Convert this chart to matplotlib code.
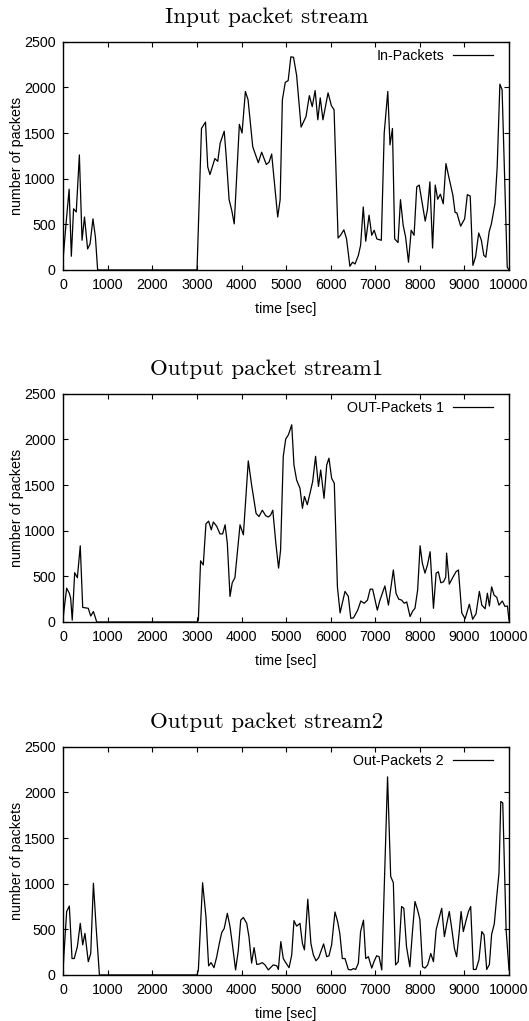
import matplotlib
matplotlib.use("Agg")
import matplotlib.pyplot as plt

# ---- data ----
in_t = [0, 60, 130, 180, 230, 290, 360, 420, 475, 545, 600, 665, 720, 770, 3000,
        3100, 3190, 3240, 3290, 3400, 3465, 3520, 3610, 3655, 3720, 3780, 3835, 3950, 4010,
        4085, 4145, 4250, 4375, 4450, 4555, 4615, 4675, 4810, 4865, 4915, 4980, 5045, 5105,
        5165, 5235, 5335, 5445, 5520, 5585, 5650, 5710, 5765, 5825, 5940, 6015, 6075, 6165,
        6220, 6295, 6355, 6430, 6490, 6545, 6620, 6670, 6730, 6785, 6860, 6920, 6975, 7035,
        7135, 7200, 7280, 7330, 7385, 7435, 7510, 7565, 7625, 7680, 7745, 7805, 7870, 7930,
        7985, 8120, 8170, 8225, 8285, 8345, 8400, 8460, 8525, 8585, 8660, 8740, 8790, 8830,
        8915, 9005, 9065, 9130, 9190, 9250, 9320, 9380, 9435, 9480, 9555, 9605, 9685, 9735,
        9795, 9845, 9960, 10000]
in_v = [150, 500, 885, 150, 670, 635, 1260, 325, 580, 230, 285, 560, 360, 0, 0,
        1550, 1620, 1130, 1045, 1220, 1190, 1390, 1520, 1240, 770, 650, 505, 1595, 1500,
        1955, 1865, 1350, 1175, 1290, 1155, 1180, 1270, 580, 770, 1865, 2055, 2075, 2335,
        2330, 2130, 1565, 1680, 1910, 1790, 1965, 1645, 1885, 1645, 1940, 1800, 1755, 350,
        380, 440, 340, 40, 85, 65, 160, 270, 690, 315, 600, 380, 435, 340,
        325, 1500, 1955, 1370, 1550, 340, 300, 770, 490, 360, 85, 435, 380, 910,
        930, 535, 660, 965, 240, 930, 775, 830, 725, 1165, 995, 820, 630, 625,
        480, 560, 825, 810, 50, 145, 405, 325, 160, 140, 420, 505, 725, 1130,
        2035, 1975, 30, 0]

out1_t = [0, 15, 75, 135, 165, 200, 255, 315, 380, 435, 495, 560, 615, 675, 750, 3000,
          3030, 3080, 3140, 3200, 3260, 3320, 3365, 3440, 3515, 3575, 3630, 3680, 3740, 3790,
          3850, 3965, 4040, 4150, 4225, 4325, 4390, 4465, 4540, 4600, 4650, 4700, 4770, 4830,
          4875, 4935, 4990, 5050, 5125, 5175, 5235, 5310, 5365, 5410, 5475, 5535, 5595, 5660,
          5725, 5775, 5850, 5910, 5960, 6020, 6080, 6150, 6210, 6320, 6395, 6450, 6510, 6605,
          6675, 6750, 6825, 6885, 6940, 6995, 7045, 7105, 7215, 7295, 7405, 7465, 7525, 7590,
          7650, 7705, 7780, 7840, 7890, 7950, 8005, 8055, 8115, 8170, 8230, 8305, 8365, 8415,
          8470, 8530, 8580, 8600, 8660, 8735, 8810, 8865, 8940, 9015, 9110, 9185, 9260, 9335,
          9390, 9465, 9515, 9560, 9610, 9665, 9725, 9775, 9850, 9910, 9965, 10000]
out1_v = [50, 130, 370, 315, 260, 20, 540, 485, 835, 160, 155, 150, 65, 115, 0, 0,
          20, 670, 625, 1075, 1105, 1010, 1095, 1050, 965, 965, 1065, 860, 280, 430,
          485, 1065, 955, 1765, 1500, 1190, 1155, 1225, 1165, 1150, 1170, 1225, 855, 590,
          790, 1815, 2005, 2050, 2160, 1720, 1555, 1465, 1245, 1375, 1285, 1410, 1540, 1815,
          1485, 1665, 1355, 1720, 1795, 1575, 1520, 385, 100, 335, 280, 40, 45, 130,
          230, 205, 240, 360, 360, 240, 130, 240, 395, 185, 570, 315, 250, 240,
          205, 220, 60, 120, 150, 350, 835, 645, 535, 625, 770, 150, 535, 550,
          430, 440, 490, 755, 415, 485, 550, 570, 100, 35, 195, 30, 90, 335,
          185, 145, 315, 175, 385, 295, 270, 185, 230, 170, 175, 20]

out2_t = [0, 15, 75, 135, 195, 245, 315, 380, 435, 485, 560, 615, 675, 735, 810, 3000,
          3030, 3125, 3200, 3260, 3315, 3380, 3440, 3500, 3555, 3610, 3680, 3740, 3800, 3865,
          3925, 3980, 4040, 4115, 4165, 4225, 4280, 4340, 4400, 4465, 4525, 4600, 4660, 4710,
          4790, 4825, 4880, 4935, 4990, 5065, 5125, 5175, 5235, 5310, 5365, 5410, 5485, 5555,
          5610, 5670, 5730, 5795, 5840, 5910, 5960, 6020, 6095, 6155, 6205, 6260, 6320, 6395,
          6455, 6510, 6560, 6620, 6670, 6735, 6785, 6845, 6920, 6970, 7030, 7085, 7145, 7215,
          7275, 7345, 7405, 7455, 7515, 7590, 7640, 7700, 7775, 7830, 7890, 7950, 8000, 8060,
          8115, 8175, 8245, 8305, 8365, 8430, 8490, 8550, 8605, 8660, 8715, 8775, 8825, 8880,
          8925, 8975, 9030, 9090, 9140, 9200, 9260, 9325, 9390, 9440, 9500, 9560, 9610, 9670,
          9725, 9775, 9815, 9860, 9935, 10000]
out2_v = [100, 235, 695, 755, 180, 180, 310, 565, 330, 455, 145, 235, 1005, 530, 0, 0,
          55, 1010, 640, 100, 135, 80, 195, 345, 465, 510, 675, 530, 310, 55,
          265, 600, 630, 565, 420, 130, 300, 115, 120, 135, 110, 55, 85, 110,
          100, 60, 365, 180, 135, 80, 220, 595, 535, 565, 345, 275, 830, 345,
          220, 155, 190, 280, 340, 200, 210, 330, 690, 585, 450, 180, 180, 60,
          55, 70, 60, 130, 475, 600, 180, 200, 75, 145, 210, 200, 55, 1205,
          2170, 1080, 1010, 110, 145, 750, 730, 310, 90, 450, 805, 710, 610, 90,
          75, 110, 235, 145, 495, 620, 730, 420, 565, 695, 510, 290, 200, 455,
          695, 475, 585, 695, 750, 60, 60, 165, 475, 440, 60, 115, 445, 560,
          860, 1115, 1900, 1885, 495, 55]

titles = ["Input packet stream", "Output packet stream1", "Output packet stream2"]
labels = ["In-Packets", "OUT-Packets 1", "Out-Packets 2"]
xticks = list(range(0, 10001, 1000))
yticks = list(range(0, 2501, 500))

series = [(in_t, in_v), (out1_t, out1_v), (out2_t, out2_v)]

SANS = "Liberation Sans"
FS = 10.3

fig = plt.figure(figsize=(5.29, 10.21), dpi=100)
left, width = 0.1197, 0.8425
bottoms = [0.7356, 0.3908, 0.0451]
height = 0.2235

for (t, v), ttl, lab, b in zip(series, titles, labels, bottoms):
    ax = fig.add_axes([left, b, width, height])
    ax.plot(t, v, color="black", lw=0.9, label=lab)
    ax.set_xlim(0, 10000)
    ax.set_ylim(0, 2500)
    ax.set_xticks(xticks)
    ax.set_yticks(yticks)
    ax.tick_params(direction="in", top=True, right=True, length=3.8, width=0.8,
                   labelsize=FS)
    ax.tick_params(axis="x", pad=6)
    ax.tick_params(axis="y", pad=5.5)
    for lbl in ax.get_xticklabels() + ax.get_yticklabels():
        lbl.set_family(SANS)
    for s in ax.spines.values():
        s.set_linewidth(1.0)
    ax.set_xlabel("time [sec]", fontsize=FS, family=SANS, labelpad=7)
    ax.set_ylabel("number of packets", fontsize=FS, family=SANS, labelpad=0)
    ax.set_title(ttl, fontsize=16.5, family="cmr10", pad=13.5, x=0.457)
    ax.legend(loc="upper right", bbox_to_anchor=(0.9955, 1.028), frameon=False,
              markerfirst=False, prop={"family": SANS, "size": FS},
              handlelength=2.8, borderaxespad=0.55, handletextpad=0.65)

fig.savefig("out.png", dpi=100)
